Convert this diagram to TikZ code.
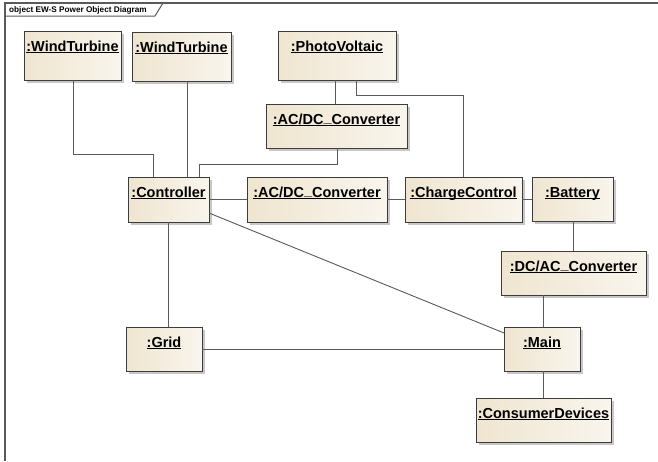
\documentclass[tikz,border=0pt]{standalone}
\usepackage{fontspec}
\setmainfont{Liberation Sans}
\usetikzlibrary{shadows}
\definecolor{boxA}{RGB}{239,229,208}
\definecolor{boxB}{RGB}{249,245,237}
\definecolor{boxline}{RGB}{60,60,60}
\definecolor{connline}{RGB}{90,90,90}
\definecolor{frameline}{RGB}{90,90,90}
\newcommand\objul[1]{\leavevmode\setbox0\hbox{#1}\rlap{\vrule width \wd0 height -1.3pt depth 2.3pt}\box0}
\newcommand\us{\raisebox{1.3pt}{\_}}
\tikzset{
  x=1pt, y=-1pt,
  objbox/.style={draw=boxline, line width=1pt, left color=boxA, right color=boxB,
    inner sep=0pt, outer sep=0pt, anchor=north west,
    drop shadow={shadow xshift=2.5pt, shadow yshift=-2.5pt, fill=black!22, opacity=1}},
  objlbl/.style={anchor=base, inner sep=0pt, font=\fontsize{14.5}{16}\selectfont\bfseries},
  conn/.style={draw=connline, line width=0.9pt},
}
\newcommand\obj[6]{% name, left, top, right, bottom, text
  \node[objbox, minimum width={#4-#2}, minimum height={#5-#3}] (#1) at (#2,#3) {};
  \node[objlbl] (#1l) at ({(#2+#4)/2},{#3+20}) {\objul{#6}};
}
\begin{document}
\begin{tikzpicture}
\useasboundingbox (0,0) rectangle (658,461);
\fill[white] (0,0) rectangle (658,461);
% frame
\draw[frameline, line width=1.4pt] (5,461) -- (5,3) -- (658,3);
\draw[frameline, line width=1pt] (5,16) -- (155,16) -- (163,3);
\node[anchor=base west, inner sep=0pt, font=\fontsize{8.2}{9}\selectfont\bfseries] (title) at (9,12.5) {object EW-S Power Object Diagram};
% objects
\obj{wt1}{24}{31}{121}{80}{:WindTurbine}
\obj{wt2}{132}{32}{231}{81}{:WindTurbine}
\obj{pv}{278}{31}{396}{80}{:PhotoVoltaic}
\obj{acdca}{266}{104}{407}{148}{:AC/DC\us Converter}
\obj{ctrl}{128}{177}{209}{222}{:Controller}
\obj{acdcb}{247}{177}{387}{222}{:AC/DC\us Converter}
\obj{cc}{405}{177}{522}{222}{:ChargeControl}
\obj{bat}{532}{177}{613}{221}{:Battery}
\obj{dcac}{501}{251}{646}{295}{:DC/AC\us Converter}
\obj{grid}{126}{327}{202}{371}{:Grid}
\obj{main}{504}{327}{580}{371}{:Main}
\obj{cons}{476}{398}{611}{442}{:ConsumerDevices}
% bend points
\coordinate (b1) at (73,154);
\coordinate (b2) at (153,154);
\coordinate (x2) at (187,0);
\coordinate (b3) at (337,164);
\coordinate (b4) at (199,164);
\coordinate (x4) at (335,0);
\coordinate (b5) at (356,95);
\coordinate (b6) at (463,95);
\coordinate (x9) at (573,0);
\coordinate (x10) at (543,0);
\coordinate (x14) at (168,0);
% connectors
\draw[conn] (wt1.south -| b1) -- (b1) -- (b2) -- (ctrl.north -| b2);
\draw[conn] (wt2.south -| x2) -- (ctrl.north -| x2);
\draw[conn] (acdca.south -| b3) -- (b3) -- (b4) -- (ctrl.north -| b4);
\draw[conn] (pv.south -| x4) -- (acdca.north -| x4);
\draw[conn] (pv.south -| b5) -- (b5) -- (b6) -- (cc.north -| b6);
\draw[conn] (ctrl.east) -- (acdcb.west);
\draw[conn] (acdcb.east) -- (cc.west);
\draw[conn] (cc.east) -- (cc.east -| bat.west);
\draw[conn] (bat.south -| x9) -- (dcac.north -| x9);
\draw[conn] (dcac.south -| x10) -- (main.north -| x10);
\draw[conn] (main.south -| x10) -- (cons.north -| x10);
\draw[conn] ([yshift=9pt]ctrl.south east) -- ([yshift=-6pt]main.north west);
\draw[conn] (grid.east) -- (main.west);
\draw[conn] (ctrl.south -| x14) -- (grid.north -| x14);
\end{tikzpicture}
\end{document}
